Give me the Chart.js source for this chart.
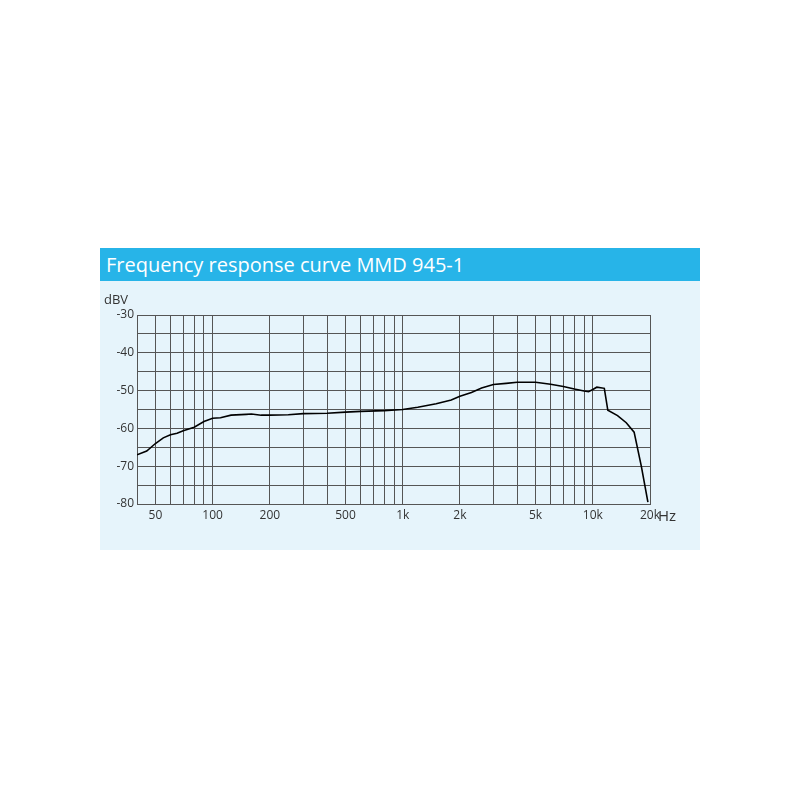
<!DOCTYPE html>
<html><head><meta charset="utf-8">
<script src="https://cdn.jsdelivr.net/npm/chart.js@4/dist/chart.umd.min.js"></script>
<style>
body{margin:0;background:#fff;font-family:"Open Sans",sans-serif;}
#panel{position:absolute;left:100px;top:248px;width:600px;height:302px;background:#e6f4fb;}
#title{position:absolute;left:0;top:0;width:600px;height:33px;background:#27b4e8;color:#fff;font-size:20px;line-height:33px;padding-left:6px;box-sizing:border-box;}
#wrap{position:absolute;left:0;top:33px;width:600px;height:269px;}
.lbl{position:absolute;color:#333;font-size:13px;}
</style></head><body>
<div id="panel">
<div id="title">Frequency response curve MMD 945-1</div>
<div id="wrap"><canvas id="c"></canvas></div>
<div class="lbl" style="left:4px;top:42px;">dBV</div>
<div class="lbl" style="left:558px;top:257px;font-size:15px;">Hz</div>
</div>
<script>
const freqs=[40,45,50,55,60,65,70,80,90,100,110,125,150,160,180,200,250,300,400,500,600,800,1000,1200,1500,1800,2000,2300,2600,3000,3500,4000,5000,6000,7000,8000,9000,9500,10000,10500,11500,12000,13500,15000,16500,18000,19500];
const dbv=[-67,-66,-64,-62.5,-61.7,-61.3,-60.6,-59.7,-58.2,-57.3,-57.2,-56.5,-56.3,-56.2,-56.5,-56.5,-56.4,-56.1,-56,-55.7,-55.5,-55.3,-55,-54.4,-53.5,-52.5,-51.5,-50.5,-49.3,-48.4,-48.1,-47.8,-47.8,-48.3,-48.9,-49.6,-50.1,-50.3,-49.7,-49.1,-49.4,-55.2,-56.6,-58.5,-61,-70,-79.5];
const xGrid=[40,50,60,70,80,90,100,200,300,400,500,600,700,800,900,1000,2000,3000,4000,5000,6000,7000,8000,9000,10000,20000];
const xLabels={50:'50',100:'100',200:'200',500:'500',1000:'1k',2000:'2k',5000:'5k',10000:'10k',20000:'20k'};
new Chart(document.getElementById('c'),{
 type:'line',
 data:{datasets:[{data:freqs.map((f,i)=>({x:f,y:dbv[i]})),borderColor:'#000',borderWidth:1.6,pointRadius:0,tension:0}]},
 options:{responsive:true,maintainAspectRatio:false,animation:false,
  layout:{padding:{top:34,right:50,left:0,bottom:0}},
  plugins:{legend:{display:false},tooltip:{enabled:false}},
  scales:{
   x:{type:'logarithmic',min:40,max:20000,
    afterBuildTicks:a=>{a.ticks=xGrid.map(v=>({value:v}));},
    afterFit:a=>{a.height=46;},
    ticks:{autoSkip:false,maxRotation:0,color:'#333',font:{family:'Open Sans',size:12},padding:4,
     callback:v=>xLabels[v]||''},
    grid:{color:'#555',lineWidth:1,drawTicks:false},border:{color:'#555'}},
   y:{min:-80,max:-30,
    afterFit:a=>{a.width=37;},
    ticks:{stepSize:5,color:'#333',font:{family:'Open Sans',size:12},padding:3,
     callback:v=>v%10===0?String(v):''},
    grid:{color:'#555',lineWidth:1,drawTicks:false},border:{color:'#555'}}
  }}
});
</script></body></html>
